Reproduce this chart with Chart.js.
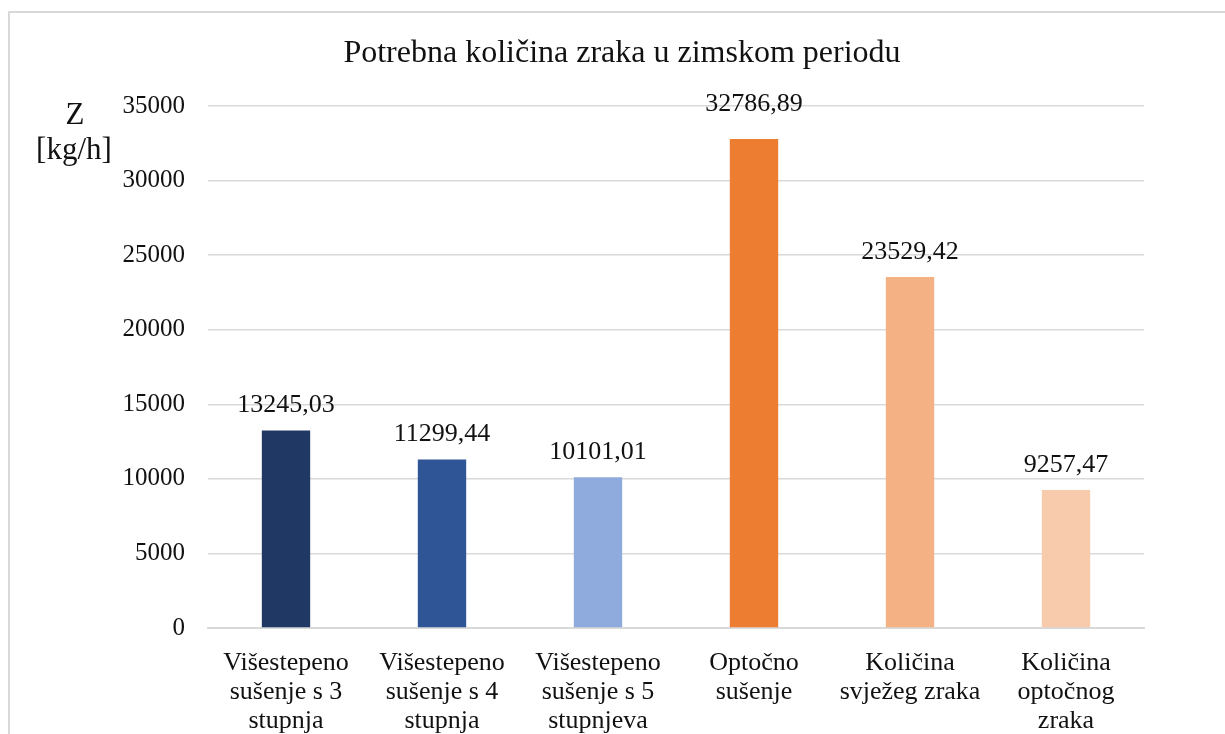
<!DOCTYPE html>
<html>
<head>
<meta charset="utf-8">
<script src="https://cdn.jsdelivr.net/npm/chart.js@4"></script>
<style>
  body { margin: 0; background: #fff; }
  #okvir { position: absolute; left: 8px; top: 11px; width: 1300px; height: 800px; border: 2px solid #d9d9d9; }
  #graf { position: absolute; left: 0; top: 0; }
</style>
</head>
<body>
<div id="okvir"></div>
<canvas id="graf" width="1225" height="734"></canvas>
<script>
const naslov = 'Potrebna količina zraka u zimskom periodu'
const kategorije = [
  ['Višestepeno', 'sušenje s 3', 'stupnja'],
  ['Višestepeno', 'sušenje s 4', 'stupnja'],
  ['Višestepeno', 'sušenje s 5', 'stupnjeva'],
  ['Optočno', 'sušenje'],
  ['Količina', 'svježeg zraka'],
  ['Količina', 'optočnog', 'zraka']
]
const vrijednosti = [13245.03, 11299.44, 10101.01, 32786.89, 23529.42, 9257.47]
const boje = ['#203864', '#2f5597', '#8faadc', '#ed7d31', '#f4b183', '#f8cbad']
const osY = ['Z', '[kg/h]']

const font = "'Liberation Serif', 'Times New Roman', serif"

// natpisi iznad stupaca, naslov i oznaka osi
const natpisi = {
  id: 'natpisi',
  afterDatasetsDraw(chart) {
    const ctx = chart.ctx
    ctx.save()
    ctx.fillStyle = '#111'
    ctx.textAlign = 'center'
    ctx.textBaseline = 'middle'
    ctx.font = '26px ' + font
    chart.getDatasetMeta(0).data.forEach((bar, i) => {
      // natpis najvišeg stupca je u originalu malo podignut
      let pomak = vrijednosti[i] === Math.max(...vrijednosti) ? 35 : 25
      ctx.fillText(vrijednosti[i].toFixed(2).replace('.', ','), bar.x, bar.y - pomak)
    })
    ctx.font = '32px ' + font
    ctx.fillText(naslov, 622, 54)
    ctx.font = '31px ' + font
    ctx.fillText(osY[0], 75, 116)
    ctx.fillText(osY[1], 74, 151)
    ctx.restore()
  }
}

new Chart(document.getElementById('graf'), {
  type: 'bar',
  data: {
    labels: kategorije,
    datasets: [{
      data: vrijednosti,
      backgroundColor: boje,
      barPercentage: 0.31,
      categoryPercentage: 1
    }]
  },
  options: {
    responsive: false,
    animation: false,
    layout: { padding: { top: 106, right: 81, left: 0, bottom: 0 } },
    plugins: {
      legend: { display: false },
      title: { display: false },
      tooltip: { enabled: false }
    },
    scales: {
      x: {
        grid: { display: false },
        border: { color: '#d9d9d9', width: 2 },
        ticks: {
          color: '#111',
          font: { family: font, size: 26, lineHeight: '29px' },
          padding: 13,
          maxRotation: 0,
          autoSkip: false
        },
        afterFit(scale) { scale.height = 106 }
      },
      y: {
        min: 0,
        max: 35000,
        grid: { color: '#d9d9d9', lineWidth: 1.5, drawTicks: false },
        border: { display: false },
        ticks: {
          stepSize: 5000,
          color: '#111',
          font: { family: font, size: 25 },
          padding: 23,
          callback: v => String(v)
        },
        afterFit(scale) { scale.width = 208 }
      }
    }
  },
  plugins: [natpisi]
})
</script>
</body>
</html>
